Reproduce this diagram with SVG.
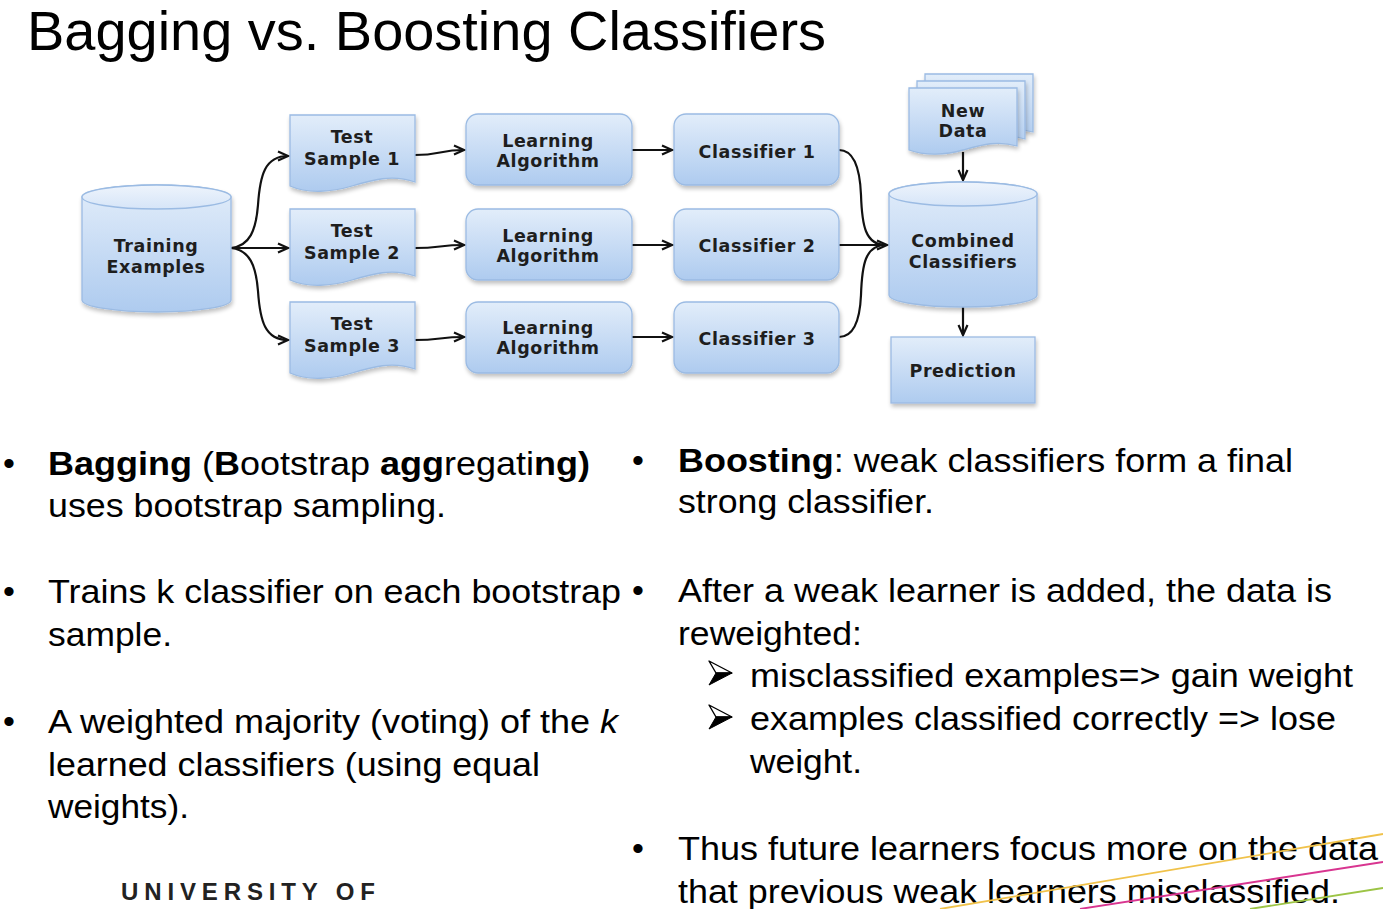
<svg xmlns="http://www.w3.org/2000/svg" width="1383" height="909" viewBox="0 0 1383 909">
  <style>
    .title { font-family: "Liberation Sans", Arial, sans-serif; font-size: 55px; fill: #000; }
    .body { font-family: "Liberation Sans", Arial, sans-serif; font-size: 34px; fill: #000; }
    .b { font-weight: bold; }
    .lbl { font-family: "DejaVu Sans", Verdana, sans-serif; font-size: 17.5px; font-weight: bold; fill: #1e1e1e; text-anchor: middle; letter-spacing: 0.6px; }
    .shape { fill: url(#boxFill); stroke: #9bbbe3; stroke-width: 1.3; filter: url(#soft); }
    .cap { fill: url(#capFill); stroke: #9bbbe3; stroke-width: 1.3; }
    .conn { fill: none; stroke: #111; stroke-width: 2.2; }
    .uni { font-family: "Liberation Sans", Arial, sans-serif; font-size: 24px; font-weight: bold; fill: #222; }
  </style>
  <defs>
    <linearGradient id="boxFill" x1="0" y1="0" x2="0" y2="1">
      <stop offset="0" stop-color="#e2edfa"/>
      <stop offset="1" stop-color="#aecbef"/>
    </linearGradient>
    <linearGradient id="capFill" x1="0" y1="0" x2="0" y2="1">
      <stop offset="0" stop-color="#eef4fc"/>
      <stop offset="1" stop-color="#d6e5f8"/>
    </linearGradient>
    <filter id="soft" x="-10%" y="-10%" width="125%" height="130%">
      <feGaussianBlur in="SourceAlpha" stdDeviation="2"/>
      <feOffset dx="1" dy="3" result="b"/>
      <feComponentTransfer><feFuncA type="linear" slope="0.25"/></feComponentTransfer>
      <feMerge><feMergeNode/><feMergeNode in="SourceGraphic"/></feMerge>
    </filter>
    <marker id="arrow" markerUnits="userSpaceOnUse" markerWidth="14" markerHeight="12" refX="11" refY="6" orient="auto">
      <path d="M1,1.5 L11,6 L1,10.5" fill="none" stroke="#111" stroke-width="2.2" stroke-linejoin="miter"/>
    </marker>
  </defs>

  <rect width="1383" height="909" fill="#fff"/>

  <text class="title" x="27" y="50" textLength="799" lengthAdjust="spacingAndGlyphs">Bagging vs. Boosting Classifiers</text>

  <!-- connectors -->
  <g id="connectors">
    <path class="conn" marker-end="url(#arrow)" d="M231,248 C250,246 256,230 258,205 C260,175 265,156 288,156"/>
    <path class="conn" marker-end="url(#arrow)" d="M231,248 H288"/>
    <path class="conn" marker-end="url(#arrow)" d="M231,248 C250,250 256,266 258,291 C260,321 265,340 288,340"/>
    <path class="conn" marker-end="url(#arrow)" d="M415,155 C440,155 440,150 464,150"/>
    <path class="conn" marker-end="url(#arrow)" d="M415,248 C440,248 440,245 464,245"/>
    <path class="conn" marker-end="url(#arrow)" d="M415,340 C440,340 440,337 464,337"/>
    <path class="conn" marker-end="url(#arrow)" d="M632,150 H672"/>
    <path class="conn" marker-end="url(#arrow)" d="M632,245 H672"/>
    <path class="conn" marker-end="url(#arrow)" d="M632,337 H672"/>
    <path class="conn" d="M839,150 C855,150 860,170 861,195 C862,225 865,245 886,245"/>
    <path class="conn" d="M839,337 C855,337 860,318 861,295 C862,265 865,245 886,245"/>
    <path class="conn" marker-end="url(#arrow)" d="M839,245 H887"/>
    <path class="conn" marker-end="url(#arrow)" d="M963,152 V180"/>
    <path class="conn" marker-end="url(#arrow)" d="M963,307 V335"/>
  </g>

  <!-- cylinder store -->
  <g id="training">
    <path class="shape" d="M82,197 A74.5,12 0 0 1 231,197 V300 A74.5,12 0 0 1 82,300 Z"/>
    <ellipse class="cap" cx="156.5" cy="197" rx="74.5" ry="12"/>
    <text class="lbl" x="156" y="252">Training</text>
    <text class="lbl" x="156" y="273">Examples</text>
  </g>

  <g id="sample1">
    <path class="shape" d="M290,115 H415 V182 C392,174 372,180 352,186 C332,192 308,194 290,186 Z"/>
    <text class="lbl" x="352" y="143">Test</text>
    <text class="lbl" x="352" y="165">Sample 1</text>
  </g>
  <g id="sample2">
    <path class="shape" d="M290,209 H415 V276 C392,268 372,274 352,280 C332,286 308,288 290,280 Z"/>
    <text class="lbl" x="352" y="237">Test</text>
    <text class="lbl" x="352" y="259">Sample 2</text>
  </g>
  <g id="sample3">
    <path class="shape" d="M290,302 H415 V369 C392,361 372,367 352,373 C332,379 308,381 290,373 Z"/>
    <text class="lbl" x="352" y="330">Test</text>
    <text class="lbl" x="352" y="352">Sample 3</text>
  </g>

  <g id="learn1">
    <rect class="shape" x="466" y="114" width="166" height="71" rx="12"/>
    <text class="lbl" x="548" y="147">Learning</text>
    <text class="lbl" x="548" y="167">Algorithm</text>
  </g>
  <g id="learn2">
    <rect class="shape" x="466" y="209" width="166" height="71" rx="12"/>
    <text class="lbl" x="548" y="242">Learning</text>
    <text class="lbl" x="548" y="262">Algorithm</text>
  </g>
  <g id="learn3">
    <rect class="shape" x="466" y="302" width="166" height="71" rx="12"/>
    <text class="lbl" x="548" y="334">Learning</text>
    <text class="lbl" x="548" y="354">Algorithm</text>
  </g>

  <g id="clf1">
    <rect class="shape" x="674" y="114" width="165" height="71" rx="12"/>
    <text class="lbl" x="757" y="158">Classifier 1</text>
  </g>
  <g id="clf2">
    <rect class="shape" x="674" y="209" width="165" height="71" rx="12"/>
    <text class="lbl" x="757" y="252">Classifier 2</text>
  </g>
  <g id="clf3">
    <rect class="shape" x="674" y="302" width="165" height="71" rx="12"/>
    <text class="lbl" x="757" y="345">Classifier 3</text>
  </g>

  <!-- stacked documents -->
  <g id="newdata">
    <path class="shape" d="M925,74 H1033 V132 C1013,126 997,131 979,136 C962,141 941,142 925,136 Z"/>
    <path class="shape" d="M917,81 H1025 V139 C1005,133 989,138 971,143 C954,148 933,149 917,143 Z"/>
    <path class="shape" d="M909,88 H1017 V146 C997,140 981,145 963,150 C946,155 925,156 909,150 Z"/>
    <text class="lbl" x="963" y="117">New</text>
    <text class="lbl" x="963" y="137">Data</text>
  </g>

  <g id="combined">
    <path class="shape" d="M889,194 A74,12 0 0 1 1037,194 V295 A74,12 0 0 1 889,295 Z"/>
    <ellipse class="cap" cx="963" cy="194" rx="74" ry="12"/>
    <text class="lbl" x="963" y="247">Combined</text>
    <text class="lbl" x="963" y="268">Classifiers</text>
  </g>

  <g id="prediction">
    <rect class="shape" x="891" y="337" width="144" height="66"/>
    <text class="lbl" x="963" y="377">Prediction</text>
  </g>

  <!-- left column -->
  <g id="bagging">
    <text class="body" x="3" y="475">•</text>
    <text class="body" x="48" y="475" textLength="542" lengthAdjust="spacingAndGlyphs"><tspan class="b">Bagging</tspan> (<tspan class="b">B</tspan>ootstrap <tspan class="b">agg</tspan>regati<tspan class="b">ng)</tspan></text>
    <text class="body" x="48" y="517" textLength="398" lengthAdjust="spacingAndGlyphs">uses bootstrap sampling.</text>
    <text class="body" x="3" y="603">•</text>
    <text class="body" x="48" y="603" textLength="573" lengthAdjust="spacingAndGlyphs">Trains k classifier on each bootstrap</text>
    <text class="body" x="48" y="646" textLength="124" lengthAdjust="spacingAndGlyphs">sample.</text>
    <text class="body" x="3" y="733">•</text>
    <text class="body" x="48" y="733" textLength="570" lengthAdjust="spacingAndGlyphs">A weighted majority (voting) of the <tspan font-style="italic">k</tspan></text>
    <text class="body" x="48" y="776" textLength="492" lengthAdjust="spacingAndGlyphs">learned classifiers (using equal</text>
    <text class="body" x="48" y="818" textLength="141" lengthAdjust="spacingAndGlyphs">weights).</text>
  </g>

  <!-- right column -->
  <g id="boosting">
    <text class="body" x="632" y="472">•</text>
    <text class="body" x="678" y="472" textLength="615" lengthAdjust="spacingAndGlyphs"><tspan class="b">Boosting</tspan>: weak classifiers form a final</text>
    <text class="body" x="678" y="513" textLength="256" lengthAdjust="spacingAndGlyphs">strong classifier.</text>
    <text class="body" x="632" y="602">•</text>
    <text class="body" x="678" y="602" textLength="654" lengthAdjust="spacingAndGlyphs">After a weak learner is added, the data is</text>
    <text class="body" x="678" y="645" textLength="184" lengthAdjust="spacingAndGlyphs">reweighted:</text>
    <path d="M709,661 L732,673 L716,673 Z" fill="#fff" stroke="#000" stroke-width="1.4" stroke-linejoin="round"/>
    <path d="M716,673 L732,673 L709,685 Z" fill="#000" stroke="#000" stroke-width="1" stroke-linejoin="round"/>
    <text class="body" x="750" y="687" textLength="603" lengthAdjust="spacingAndGlyphs">misclassified examples=&gt; gain weight</text>
    <path d="M709,705 L732,717 L716,717 Z" fill="#fff" stroke="#000" stroke-width="1.4" stroke-linejoin="round"/>
    <path d="M716,717 L732,717 L709,729 Z" fill="#000" stroke="#000" stroke-width="1" stroke-linejoin="round"/>
    <text class="body" x="750" y="730" textLength="586" lengthAdjust="spacingAndGlyphs">examples classified correctly =&gt; lose</text>
    <text class="body" x="750" y="773" textLength="112" lengthAdjust="spacingAndGlyphs">weight.</text>
    <text class="body" x="632" y="860">•</text>
    <text class="body" x="678" y="860" textLength="700" lengthAdjust="spacingAndGlyphs">Thus future learners focus more on the data</text>
    <text class="body" x="678" y="903" textLength="662" lengthAdjust="spacingAndGlyphs">that previous weak learners misclassified.</text>
  </g>

  <!-- footer accent lines -->
  <g id="accents" fill="none" stroke-width="1.8">
    <path d="M940,909 L1383,834" stroke="#f0c24a"/>
    <path d="M1080,909 L1383,862" stroke="#d83590"/>
    <path d="M1250,909 L1383,888" stroke="#9cc445"/>
  </g>

  <text class="uni" x="121" y="900" textLength="254" lengthAdjust="spacing">UNIVERSITY OF</text>
</svg>
